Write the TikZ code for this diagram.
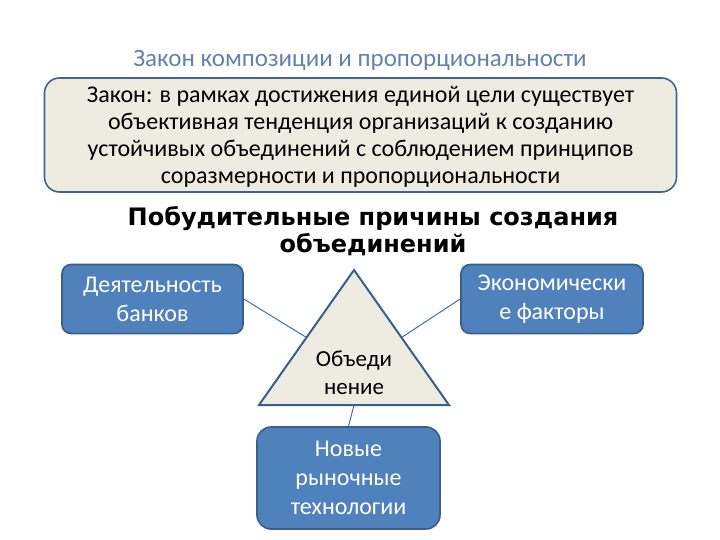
\documentclass[tikz,border=0pt]{standalone}
\usepackage{fontspec}
\setmainfont{Carlito}
\newfontfamily\headfont{DejaVu Sans}
\usepackage{xcolor}
\usetikzlibrary{positioning,calc}
\definecolor{brand}{HTML}{4F81BD}
\definecolor{brandline}{HTML}{3A5E8C}
\definecolor{softbeige}{HTML}{EEECE1}
\definecolor{lawline}{HTML}{44618A}
\definecolor{titleblue}{HTML}{6283AC}
\tikzset{
  lawbox/.style={draw=lawline,line width=1.6pt,rounded corners=15pt,fill=softbeige,align=center,
                 inner sep=0pt,font=\fontsize{24}{27}\selectfont},
  bbox/.style={draw=brandline,line width=1.6pt,rounded corners=9pt,fill=brand,text=white,align=center,
               inner sep=0pt,font=\fontsize{24}{29}\selectfont},
  tri/.style={draw=brandline,line width=2pt,fill=softbeige},
  conn/.style={draw=brand!85!black,line width=1pt}
}
\begin{document}
\begin{tikzpicture}[x=1pt,y=-1pt]
  \useasboundingbox (0,0) rectangle (720,540);
  \node[font=\fontsize{25}{28}\selectfont,text=titleblue] (title) at (360,60) {Закон композиции и пропорциональности};
  \node[lawbox,minimum width=632pt,minimum height=114pt] (law) at (360.5,135) {};
  \node[font=\fontsize{24}{27}\selectfont,align=center] (lawtext) at (360.5,137)
    {Закон: в рамках достижения единой цели существует\\объективная тенденция организаций к созданию\\устойчивых объединений с соблюдением принципов\\соразмерности и пропорциональности};
  \node[font=\headfont\bfseries\fontsize{24}{27}\selectfont,align=center] (head) at (373,231)
    {Побудительные причины создания\\объединений};
  \node[bbox,minimum width=181pt,minimum height=69pt] (banks) at (152.5,299) {Деятельность\\банков};
  \node[bbox,minimum width=182pt,minimum height=69pt] (econ) at (552,299) {Экономически\\е факторы};
  \node[bbox,rounded corners=14pt,minimum width=183pt,minimum height=102pt] (tech) at (348.5,478)
    {Новые\\рыночные\\технологии};
  \coordinate (apex) at (354,270);
  \coordinate (bl) at (259,405);
  \coordinate (br) at (449,405);
  \draw[tri] (apex) -- (bl) -- (br) -- cycle;
  \node[align=center,font=\fontsize{23}{28}\selectfont] (union) at (354,373) {Объеди\\нение};
  \draw[conn] (banks.east) -- ($(apex)!0.5!(bl)$);
  \draw[conn] (econ.west) -- ($(apex)!0.5!(br)$);
  \draw[conn] ($(bl)!0.5!(br)$) -- (tech.north);
\end{tikzpicture}
\end{document}
